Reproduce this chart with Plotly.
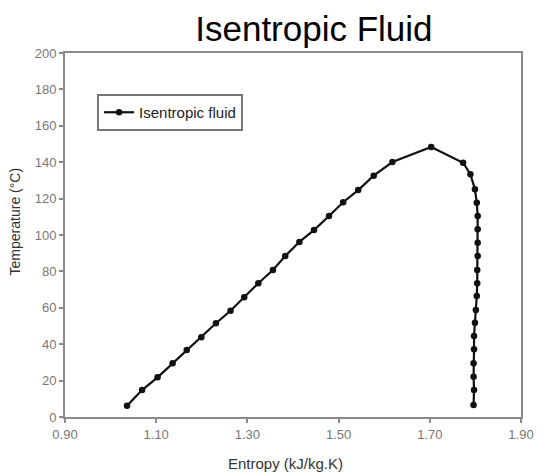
import plotly.graph_objects as go

# Data
entropy = [1.036, 1.069, 1.103, 1.136, 1.167, 1.199, 1.231, 1.263, 1.293, 1.324,
           1.356, 1.383, 1.414, 1.446, 1.479, 1.510, 1.543, 1.577, 1.618, 1.703,
           1.773, 1.789, 1.799, 1.803, 1.805, 1.805, 1.805, 1.805, 1.804, 1.804,
           1.803, 1.801, 1.799, 1.797, 1.797, 1.796, 1.796, 1.797, 1.796]
temperature = [6.2, 14.8, 21.8, 29.5, 36.8, 43.8, 51.5, 58.4, 65.8, 73.5,
               80.8, 88.5, 96.2, 102.7, 110.4, 118.0, 124.7, 132.6, 140.1, 148.4,
               139.7, 133.4, 125.1, 117.7, 110.4, 103.1, 95.8, 88.5, 80.8, 73.5,
               66.5, 58.8, 51.8, 44.5, 37.2, 29.5, 22.1, 14.8, 6.6]
x_ticks = [0.90, 1.10, 1.30, 1.50, 1.70, 1.90]
y_ticks = [0, 20, 40, 60, 80, 100, 120, 140, 160, 180, 200]

W, H = 546, 472
L, R, T, B = 65, 12, 53, 55

fig = go.Figure()
fig.add_trace(go.Scatter(
    x=entropy, y=temperature, mode="lines+markers", name="Isentropic fluid",
    line=dict(color="#111111", width=2.2),
    marker=dict(color="#111111", size=6.5, symbol="circle"),
))

axis_common = dict(
    showline=True, linecolor="#8a8a8a", linewidth=2, mirror=True,
    ticks="outside", ticklen=4, tickcolor="#8a8a8a", tickwidth=1.5,
    showgrid=False, zeroline=False,
    tickfont=dict(family="Liberation Sans, Arial, sans-serif", size=13, color="#777777"),
)

fig.update_xaxes(range=[0.90, 1.90], tickvals=x_ticks,
                 ticktext=[f"{v:.2f}" for v in x_ticks], **axis_common)
fig.update_yaxes(range=[0, 200], tickvals=y_ticks,
                 ticktext=[str(v) for v in y_ticks], **axis_common)

fig.update_layout(
    width=W, height=H,
    margin=dict(l=L, r=R, t=T, b=B),
    paper_bgcolor="white", plot_bgcolor="white",
    title=dict(text="Isentropic Fluid", x=(321 - L) / (W - L - R), xref="paper",
               xanchor="center", y=1 - 29 / H, yanchor="middle",
               font=dict(family="Liberation Sans, Arial, sans-serif", size=35, color="#000000")),
    showlegend=True,
    legend=dict(x=(98 - L) / (W - L - R), y=(417 - 94) / (417 - 53),
                xanchor="left", yanchor="top",
                bgcolor="white", bordercolor="#777777", borderwidth=2,
                font=dict(family="Liberation Sans, Arial, sans-serif", size=15, color="#222222")),
    annotations=[
        dict(text="Entropy (kJ/kg.K)", xref="paper", yref="paper",
             x=(292 - L) / (W - L - R), y=-(463 - 417) / (417 - 53),
             xanchor="center", yanchor="middle", showarrow=False,
             font=dict(family="Liberation Sans, Arial, sans-serif", size=15, color="#333333")),
        dict(text="Temperature (°C)", xref="paper", yref="paper",
             x=-(L - 14) / (W - L - R), y=(417 - 221) / (417 - 53),
             xanchor="center", yanchor="middle", showarrow=False, textangle=-90,
             font=dict(family="Liberation Sans, Arial, sans-serif", size=14, color="#333333")),
    ],
)

fig.write_html("out.html")
